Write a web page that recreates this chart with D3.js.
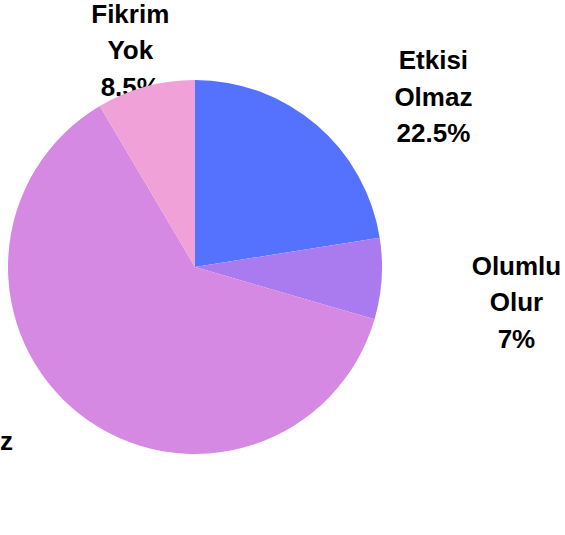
<!DOCTYPE html>
<html>
<head>
<meta charset="utf-8">
<script src="https://cdn.jsdelivr.net/npm/d3@7"></script>
<style>
  html, body { margin: 0; padding: 0; background: #fff; }
  svg { display: block; }
</style>
</head>
<body>
<div id="chart"></div>
<script>
// Dilimler ve değerleri (%)
const categories = ['Etkisi Olmaz', 'Olumlu Olur', 'Olumsuz Olur', 'Fikrim Yok'];
const values = [22.5, 7, 62, 8.5];
const colors = ['#5572ff', '#a97bef', '#d689e2', '#f0a1d8'];

// Etiketlerin küçük kaydırmaları (px)
const labelNudge = [[52, 57], [35, 26], [-61, -7], [11, 69]];

const width = 565, height = 535;
const cx = 195, cy = 267, radius = 187;

const svg = d3.select('#chart').append('svg')
  .attr('width', width)
  .attr('height', height);

const g = svg.append('g').attr('transform', `translate(${cx},${cy})`);

const data = categories.map((c, i) => ({ name: c, value: values[i], color: colors[i], i }));

const pie = d3.pie().sort(null).value(d => d.value);
const arc = d3.arc().innerRadius(0).outerRadius(radius);
const labelArc = d3.arc().innerRadius(radius + 100).outerRadius(radius + 100);

const arcs = pie(data);

// Etiketler önce çiziliyor, pasta üstlerine biner (orijinaldeki gibi)
const fmt = v => `${v}%`;
const labels = g.selectAll('text.label')
  .data(arcs)
  .enter()
  .append('text')
  .attr('class', 'label')
  .attr('text-anchor', 'middle')
  .style('font-family', '"Liberation Sans", Arial, sans-serif')
  .style('font-weight', 'bold')
  .style('font-size', '26px')
  .style('fill', '#000')
  .attr('transform', d => {
    const [x, y] = labelArc.centroid(d);
    const n = labelNudge[d.data.i];
    return `translate(${x + n[0]},${y + n[1]})`;
  });

labels.each(function(d) {
  const lines = d.data.name.split(' ').concat([fmt(d.data.value)]);
  const t = d3.select(this);
  lines.forEach((line, k) => {
    t.append('tspan')
      .attr('x', 0)
      .attr('y', (k - 1) * 36.5)
      .text(line);
  });
});

g.selectAll('path.slice')
  .data(arcs)
  .enter()
  .append('path')
  .attr('class', 'slice')
  .attr('d', arc)
  .attr('fill', d => d.data.color);
</script>
</body>
</html>
